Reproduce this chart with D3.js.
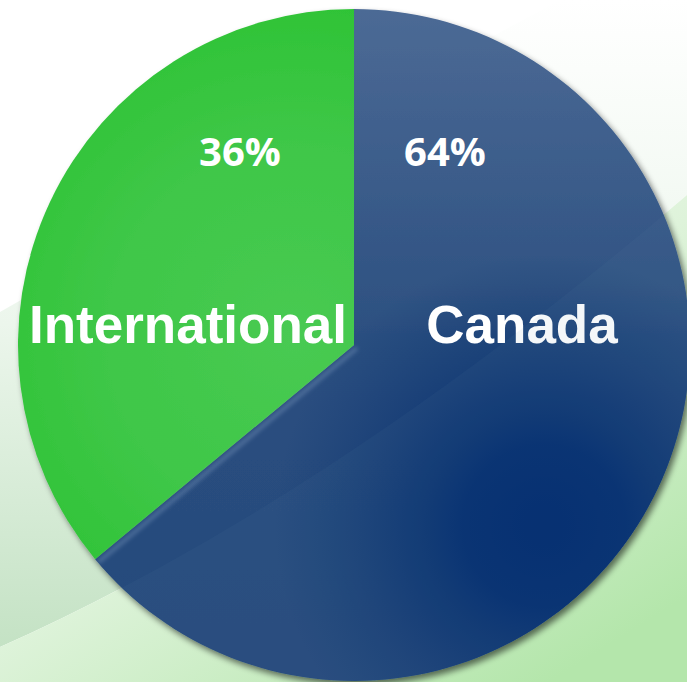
<!DOCTYPE html>
<html lang="en">
<head>
<meta charset="utf-8">
<title>Canada vs International</title>
<script src="https://d3js.org/d3.v7.min.js"></script>
<style>
  html, body { margin: 0; padding: 0; background: #fff; overflow: hidden; }
  svg { display: block; }
</style>
</head>
<body>
<script>
// data
var categories = ["Canada", "International"];
var shares = [64, 36];
var pctLabels = ["64%", "36%"];

var width = 687, height = 682;
var cx = 354, cy = 345, radius = 336;

var svg = d3.select("body").append("svg")
  .attr("width", width)
  .attr("height", height);

var defs = svg.append("defs");

// background gradients
var bandGrad = defs.append("linearGradient").attr("id", "band")
  .attr("x1", 0).attr("y1", 0).attr("x2", 0).attr("y2", 1);
bandGrad.append("stop").attr("offset", "0%").attr("stop-color", "#ffffff");
bandGrad.append("stop").attr("offset", "50%").attr("stop-color", "#ecf6ec");
bandGrad.append("stop").attr("offset", "100%").attr("stop-color", "#c4e2c4");

var lowGrad = defs.append("linearGradient").attr("id", "low")
  .attr("x1", 0.1).attr("y1", 0.2).attr("x2", 0.8).attr("y2", 1);
lowGrad.append("stop").attr("offset", "0%").attr("stop-color", "#f3faf1");
lowGrad.append("stop").attr("offset", "45%").attr("stop-color", "#def3da");
lowGrad.append("stop").attr("offset", "100%").attr("stop-color", "#b4e6ab");

// slice gradients (coords relative to the pie centre)
var blueGrad = defs.append("linearGradient").attr("id", "blue")
  .attr("gradientUnits", "userSpaceOnUse")
  .attr("x1", 0).attr("y1", -radius).attr("x2", 0).attr("y2", radius);
blueGrad.append("stop").attr("offset", "0%").attr("stop-color", "#4c6a95");
blueGrad.append("stop").attr("offset", "50%").attr("stop-color", "#2b4f80");
blueGrad.append("stop").attr("offset", "100%").attr("stop-color", "#25497b");

var blueDark = defs.append("radialGradient").attr("id", "blueDark")
  .attr("gradientUnits", "userSpaceOnUse")
  .attr("cx", 190).attr("cy", 180).attr("r", 270);
blueDark.append("stop").attr("offset", "0%").attr("stop-color", "#002a6e").attr("stop-opacity", 1);
blueDark.append("stop").attr("offset", "30%").attr("stop-color", "#002b6e").attr("stop-opacity", 0.9);
blueDark.append("stop").attr("offset", "100%").attr("stop-color", "#0d3670").attr("stop-opacity", 0);

var greenGrad = defs.append("radialGradient").attr("id", "green")
  .attr("gradientUnits", "userSpaceOnUse")
  .attr("cx", -60).attr("cy", -10).attr("r", 340);
greenGrad.append("stop").attr("offset", "0%").attr("stop-color", "#48ca52");
greenGrad.append("stop").attr("offset", "55%").attr("stop-color", "#3fc748");
greenGrad.append("stop").attr("offset", "100%").attr("stop-color", "#2ec335");

var shadow = defs.append("filter").attr("id", "shadow")
  .attr("x", "-10%").attr("y", "-10%").attr("width", "130%").attr("height", "130%");
shadow.append("feGaussianBlur").attr("in", "SourceAlpha").attr("stdDeviation", 3).attr("result", "b");
shadow.append("feOffset").attr("in", "b").attr("dx", 3).attr("dy", 4).attr("result", "o");
shadow.append("feComponentTransfer").attr("in", "o").attr("result", "s")
  .append("feFuncA").attr("type", "linear").attr("slope", 0.55);
var merge = shadow.append("feMerge");
merge.append("feMergeNode").attr("in", "s");
merge.append("feMergeNode").attr("in", "SourceGraphic");

var soft = defs.append("filter").attr("id", "soft");
soft.append("feGaussianBlur").attr("stdDeviation", 2);

// background swooshes
svg.append("rect").attr("width", width).attr("height", height).attr("fill", "#ffffff");

svg.append("path")
  .attr("d", "M0,312 Q300,140 560,0 L687,0 L687,195 Q330,500 0,647 Z")
  .attr("fill", "url(#band)");

svg.append("path")
  .attr("d", "M0,647 Q330,500 687,195 L687,682 L0,682 Z")
  .attr("fill", "url(#low)");

// pie
var pie = d3.pie().sort(null).value(function(d) { return d; });
var arc = d3.arc().innerRadius(0).outerRadius(radius);
var arcs = pie(shares);

var g = svg.append("g").attr("transform", "translate(" + cx + "," + cy + ")");

g.append("g").attr("filter", "url(#shadow)")
  .selectAll("path.slice")
  .data(arcs)
  .join("path")
  .attr("class", "slice")
  .attr("d", arc)
  .attr("fill", function(d, i) { return i === 0 ? "url(#blue)" : "url(#green)"; });

// darken the Canada slice toward the lower right
g.append("path")
  .attr("d", arc(arcs[0]))
  .attr("fill", "url(#blueDark)");

// clip for overlay highlights
defs.append("clipPath").attr("id", "pieClip")
  .append("circle").attr("cx", cx).attr("cy", cy).attr("r", radius);

// faint glaze below the swoosh curve
svg.append("path")
  .attr("clip-path", "url(#pieClip)")
  .attr("d", "M0,647 Q330,500 687,195 L687,682 L0,682 Z")
  .attr("fill", "#6a88b0")
  .attr("opacity", 0.07);

// light bevel along the slice divider
var divAngle = arcs[0].endAngle;
g.append("line")
  .attr("x1", 0).attr("y1", 0)
  .attr("x2", Math.sin(divAngle) * radius)
  .attr("y2", -Math.cos(divAngle) * radius)
  .attr("stroke", "#8aa6c8")
  .attr("stroke-width", 4)
  .attr("opacity", 0.4)
  .attr("transform", "translate(3,3)")
  .attr("filter", "url(#soft)");

// labels
var pctPos = [[91, -179], [-114, -179]];
var namePos = [[168, -2], [-166, -2]];

g.selectAll("text.pct")
  .data(arcs)
  .join("text")
  .attr("class", "pct")
  .attr("x", function(d, i) { return pctPos[i][0]; })
  .attr("y", function(d, i) { return pctPos[i][1]; })
  .attr("text-anchor", "middle")
  .attr("font-family", "'Open Sans', sans-serif")
  .attr("font-weight", "bold")
  .attr("font-size", 40)
  .attr("fill", "#ffffff")
  .text(function(d, i) { return pctLabels[i]; });

g.selectAll("text.name")
  .data(arcs)
  .join("text")
  .attr("class", "name")
  .attr("x", function(d, i) { return namePos[i][0]; })
  .attr("y", function(d, i) { return namePos[i][1]; })
  .attr("text-anchor", "middle")
  .attr("font-family", "'Liberation Sans', Arial, sans-serif")
  .attr("font-weight", "bold")
  .attr("font-size", 53)
  .attr("fill", "#ffffff")
  .text(function(d, i) { return categories[i]; });
</script>
</body>
</html>
